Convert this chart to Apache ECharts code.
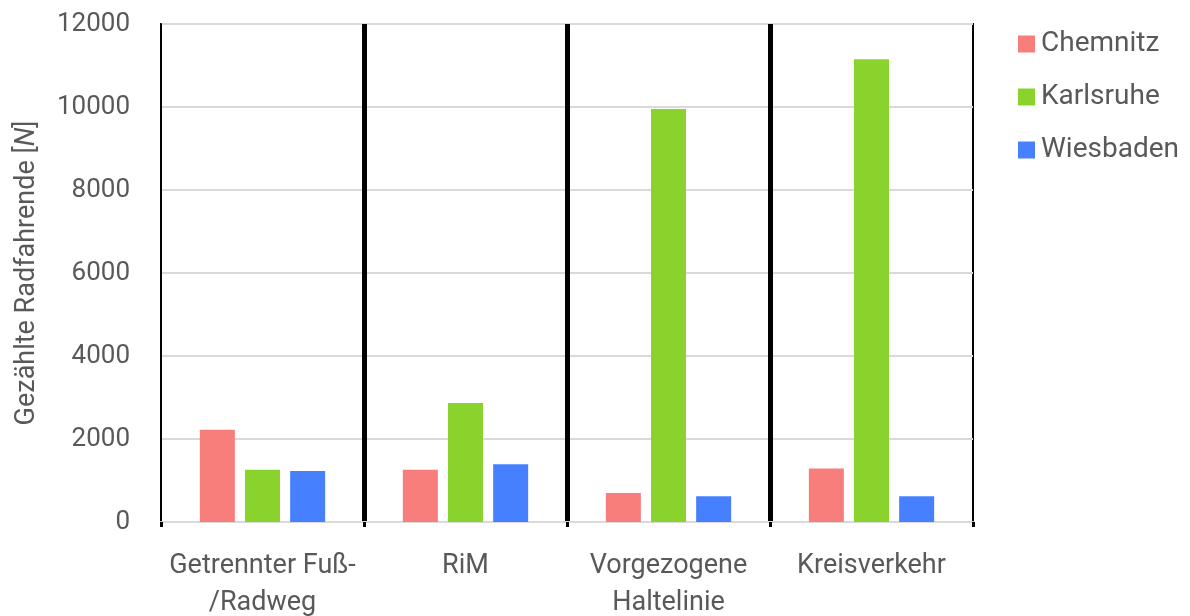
<!DOCTYPE html>
<html>
<head>
<meta charset="utf-8">
<script src="https://cdn.jsdelivr.net/npm/echarts@6/dist/echarts.min.js"></script>
<style>
  html, body { margin: 0; padding: 0; background: #fff; }
  #chart { width: 1190px; height: 616px; }
</style>
</head>
<body>
<div id="chart"></div>
<script>
// Counted cyclists per infrastructure type and city
const categories = ['Getrennter Fuß-\n/Radweg', 'RiM', 'Vorgezogene\nHaltelinie', 'Kreisverkehr'];
const chemnitz = [2220, 1260, 700, 1290];
const karlsruhe = [1260, 2870, 9950, 11150];
const wiesbaden = [1230, 1390, 620, 620];
const seriesNames = ['Chemnitz', 'Karlsruhe', 'Wiesbaden'];
const seriesColors = ['#F87E7C', '#8AD22C', '#4680FF'];
const yTicks = [0, 2000, 4000, 6000, 8000, 10000, 12000];

const FONT = 'Roboto';
const TEXT = '#595959';

const chart = echarts.init(document.getElementById('chart'));
const values = [chemnitz, karlsruhe, wiesbaden];

chart.setOption({
  animation: false,
  textStyle: { fontFamily: FONT },
  grid: {
    left: 161, right: 217, top: 24, bottom: 94,
    outerBoundsMode: 'none',
    containLabel: false,
    show: true, borderColor: '#000', borderWidth: 2, backgroundColor: 'transparent'
  },
  legend: {
    orient: 'vertical',
    left: 1013, top: 25,
    itemWidth: 17, itemHeight: 17, itemGap: 25,
    icon: 'rect',
    textStyle: { fontFamily: FONT, fontSize: 28, color: TEXT, padding: [0, 0, 0, 1] },
    data: seriesNames
  },
  xAxis: {
    type: 'category',
    data: categories,
    axisLine: { show: true, lineStyle: { color: '#D9D9D9', width: 2 } },
    axisTick: { show: true, length: 5, lineStyle: { color: '#000', width: 3 } },
    axisLabel: {
      fontFamily: FONT, fontSize: 27, color: TEXT, margin: 26, lineHeight: 37, interval: 0
    },
    splitLine: {
      show: true, showMinLine: false, showMaxLine: false,
      lineStyle: { color: '#000', width: 5 }
    }
  },
  yAxis: {
    type: 'value',
    min: yTicks[0], max: yTicks[yTicks.length - 1], interval: 2000,
    name: 'Gezählte Radfahrende [{i|N}]',
    nameLocation: 'middle',
    nameGap: 120,
    nameTextStyle: {
      fontFamily: FONT, fontSize: 27, color: TEXT,
      rich: { i: { fontFamily: FONT, fontSize: 27, color: TEXT, fontStyle: 'italic' } }
    },
    axisLine: { show: true, lineStyle: { color: '#000', width: 2 } },
    axisTick: { show: false },
    axisLabel: {
      fontFamily: FONT, fontSize: 26, color: TEXT, margin: 31,
      formatter: v => String(v)
    },
    splitLine: { show: true, lineStyle: { color: '#D9D9D9', width: 2 } }
  },
  series: seriesNames.map((name, i) => ({
    name,
    type: 'bar',
    data: values[i],
    barWidth: 35,
    barGap: '29%',
    itemStyle: { color: seriesColors[i] }
  }))
});
</script>
</body>
</html>
